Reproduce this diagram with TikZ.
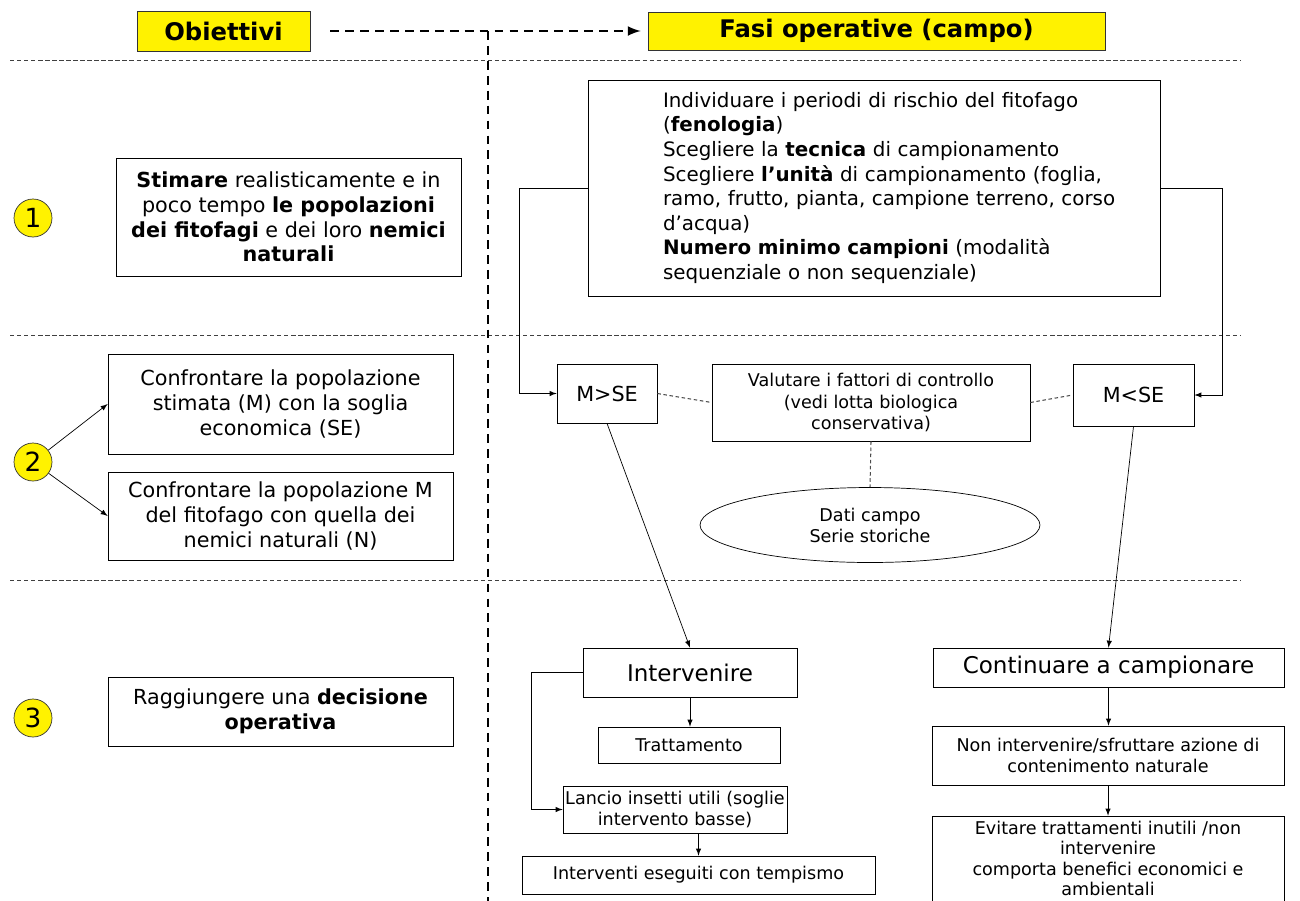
\documentclass[tikz,border=0pt]{standalone}
\usepackage{fontspec}
\setmainfont{DejaVu Sans}
\usetikzlibrary{shapes.geometric}
\begin{document}
\begin{tikzpicture}[x=0.02cm, y=-0.02cm,
    box/.style={draw, inner sep=0pt, align=center, font=\fontsize{11.8}{14}\selectfont},
    smallbox/.style={box, font=\fontsize{10}{12}\selectfont},
    bigbox/.style={box, font=\fontsize{13.1}{15}\selectfont},
    titlebox/.style={draw=black!80, fill=yellow, inner sep=0pt, font=\bfseries\fontsize{13.8}{16}\selectfont},
    numdot/.style={circle, draw=black!80, fill=yellow, minimum size=0.76cm, inner sep=0pt, font=\fontsize{15}{15}\selectfont},
    sepline/.style={black!75, dash pattern=on 2.5pt off 1.5pt, line width=0.5pt},
    bigdash/.style={line width=1.5pt, dash pattern=on 5pt off 3.5pt},
    thindash/.style={black!70, dash pattern=on 2pt off 1.5pt, line width=0.6pt}]
  \useasboundingbox (0,0) rectangle (1300,900);
  \clip (0,0) rectangle (1300,900);
  %nodes
  \node[titlebox, minimum width=3.46cm, minimum height=0.8cm] (obj) at (223.5, 31) {Obiettivi};
  \node[titlebox, minimum width=9.14cm, minimum height=0.76cm] (fasi) at (876.5, 31) {Fasi operative (campo)};
  \node[numdot] (n1) at (33, 218) {1};
  \node[numdot] (n2) at (33, 462) {2};
  \node[numdot] (n3) at (33, 718) {3};
  \node[box, minimum width=6.9cm, minimum height=2.36cm] (stima) at (288.5, 217)
    {\textbf{Stimare} realisticamente e in\\ poco tempo \textbf{le popolazioni}\\ \textbf{dei fitofagi} e dei loro \textbf{nemici}\\ \textbf{naturali}};
  \node[box, minimum width=6.9cm, minimum height=2cm] (conf1) at (280.5, 404)
    {Confrontare la popolazione\\ stimata (M) con la soglia\\ economica (SE)};
  \node[box, minimum width=6.9cm, minimum height=1.76cm] (conf2) at (280.5, 516)
    {Confrontare la popolazione M\\ del fitofago con quella dei\\ nemici naturali (N)};
  \node[box, minimum width=6.9cm, minimum height=1.38cm] (ragg) at (280.5, 711.5)
    {Raggiungere una \textbf{decisione}\\ \textbf{operativa}};
  \node[box, align=left, text width=10cm, minimum width=11.44cm, minimum height=4.32cm,
        font=\fontsize{11.3}{14}\selectfont] (fasi1) at (874, 188)
    {\leftskip=0.78cm
     Individuare i periodi di rischio del fitofago\\
     (\textbf{fenologia})\\
     Scegliere la \textbf{tecnica} di campionamento\\
     Scegliere \textbf{l’unità} di campionamento (foglia,\\
     ramo, frutto, pianta, campione terreno, corso\\
     d’acqua)\\
     \textbf{Numero minimo campioni} (modalità\\
     sequenziale o non sequenziale)\par};
  \node[box, minimum width=2cm, minimum height=1.18cm] (mgt) at (607, 393.5) {M>SE};
  \node[smallbox, minimum width=6.36cm, minimum height=1.54cm] (valut) at (871, 402.5)
    {Valutare i fattori di controllo\\ (vedi lotta biologica\\ conservativa)};
  \node[box, minimum width=2.42cm, minimum height=1.24cm] (mlt) at (1133.5, 395) {M<SE};
  \node[smallbox, ellipse, minimum width=6.8cm, minimum height=1.5cm] (dati) at (870, 525)
    {Dati campo\\ Serie storiche};
  \node[bigbox, minimum width=4.28cm, minimum height=0.98cm] (interv) at (690, 672.5) {Intervenire};
  \node[smallbox, minimum width=3.64cm, minimum height=0.72cm] (tratt) at (689, 745) {Trattamento};
  \node[smallbox, minimum width=4.48cm, minimum height=0.94cm] (lancio) at (675, 809.5)
    {Lancio insetti utili (soglie\\ intervento basse)};
  \node[smallbox, minimum width=7.06cm, minimum height=0.76cm] (tempi) at (698.5, 875)
    {Interventi eseguiti con tempismo};
  \node[bigbox, minimum width=7.02cm, minimum height=0.78cm] (cont) at (1108.5, 667.5) {Continuare a campionare};
  \node[smallbox, minimum width=7.04cm, minimum height=1.18cm] (nonint) at (1108, 755.5)
    {Non intervenire/sfruttare azione di\\ contenimento naturale};
  \node[smallbox, minimum width=7.04cm, minimum height=1.78cm] (evit) at (1108, 860.5) {};
  \node[align=center, inner sep=0pt, font=\fontsize{10}{11.5}\selectfont] (evittext) at (1108, 858.5)
    {Evitare trattamenti inutili /non\\ intervenire\\ comporta benefici economici e\\ ambientali};
  \coordinate (vtop) at (488, 31);
  \coordinate (vbot) at (488, 905);
  %separators
  \foreach \y in {60, 335, 580}
    \draw[sepline] (10, \y) -- (1240, \y);
  \draw[bigdash] (vtop) -- (vbot);
  %edges
  \path [draw, bigdash, -latex, shorten <=0.4cm, shorten >=0.14cm] (obj.east) to (fasi.west);
  \path [draw, -latex] (n2) to (conf1.west);
  \path [draw, -latex] (n2) to (conf2.west);
  \path [draw, -latex] (fasi1.west) -- ++(-68, 0) |- (mgt.west);
  \path [draw, -latex] (fasi1.east) -- ++(62, 0) |- (mlt.east);
  \path [draw, thindash] (mgt.east) to (valut.west);
  \path [draw, thindash] (valut.east) to (mlt.west);
  \path [draw, thindash] (valut.south) to (dati.north);
  \path [draw, -latex] (mgt.south) to (interv.north);
  \path [draw, -latex] (mlt.south) to (cont.north);
  \path [draw, -latex] (interv.south) to (interv.south |- tratt.north);
  \path [draw, -latex] (interv.west) -- ++(-51, 0) |- (lancio.west);
  \path [draw, -latex] (lancio.south -| tempi.north) to (tempi.north);
  \path [draw, -latex] (cont.south) to (cont.south |- nonint.north);
  \path [draw, -latex] (nonint.south) to (nonint.south |- evit.north);
\end{tikzpicture}
\end{document}
